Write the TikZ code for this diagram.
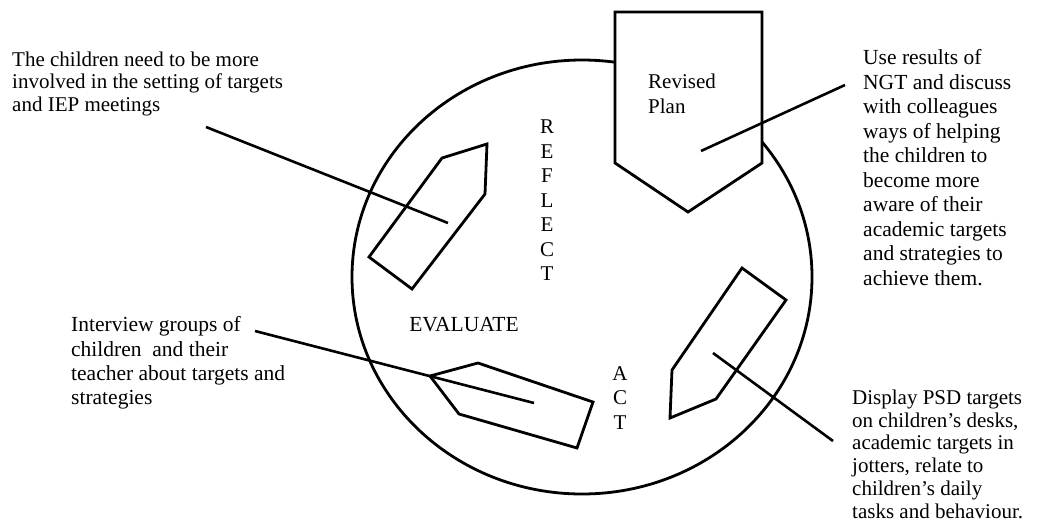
\documentclass[tikz,border=0pt]{standalone}
\usepackage{fontspec}
\setmainfont{Liberation Serif}
\begin{document}
\begin{tikzpicture}[x=1pt,y=-1pt,
  txt/.style={inner sep=0pt, align=left, anchor=north west},
  vert/.style={font=\fontsize{21}{24.5}\selectfont, inner sep=0pt, align=center, anchor=north},
  outline/.style={line width=2.8pt, line join=miter},
  link/.style={line width=2.6pt}]
\useasboundingbox (0,0) rectangle (1040,527);

% the cycle
\draw[line width=2.8pt] (582,277) ellipse [x radius=230pt, y radius=217pt];

% the stage arrows
\draw[outline, fill=white] (615,12) -- (762,12) -- (762,163) -- (688,212) -- (615,163) -- cycle;
\draw[outline] (442,158) -- (487,144) -- (485,194) -- (412,289) -- (369,257) -- cycle;
\draw[outline] (742,268) -- (786,300) -- (716,399) -- (670,418) -- (672,370) -- cycle;
\draw[outline] (430,376) -- (478,363) -- (593,402) -- (577,448) -- (459,414) -- cycle;

% labels inside the cycle
\node[txt, font=\fontsize{21}{25}\selectfont] (plan) at (648,73.5) {Revised\\Plan};
\node[vert] (reflect) at (547,120) {R\\E\\F\\L\\E\\C\\T};
\node[vert] (act) at (620,366) {A\\C\\T};
\node[font=\fontsize{21.5}{23}\selectfont, inner sep=0pt] (evaluate) at (464,325) {EVALUATE};

% notes
\node[txt, font=\fontsize{21}{22.7}\selectfont] (noteTL) at (12,51.5) {The children need to be more\\involved in the setting of targets\\and IEP meetings};
\node[txt, font=\fontsize{21.5}{24.5}\selectfont] (noteTR) at (863,49.5) {Use results of\\NGT and discuss\\with colleagues\\ways of helping\\the children to\\become more\\aware of their\\academic targets\\and strategies to\\achieve them.};
\node[txt, font=\fontsize{21.5}{24.3}\selectfont] (noteBL) at (71,316.5) {Interview groups of\\children\ \ and their\\teacher about targets and\\strategies};
\node[txt, font=\fontsize{21}{22.8}\selectfont] (noteBR) at (852,389.5) {Display PSD targets\\on children’s desks,\\academic targets in\\jotters, relate to\\children’s daily\\tasks and behaviour.};

% connector ends
\coordinate (tlA) at (206,127); \coordinate (tlB) at (448,223);
\coordinate (trA) at (845,85);  \coordinate (trB) at (701,151);
\coordinate (blA) at (255,331); \coordinate (blB) at (534,403);
\coordinate (brA) at (833,441); \coordinate (brB) at (713,353);

\draw[link] (tlA) -- (tlB);
\draw[link] (trA) -- (trB);
\draw[link] (blA) -- (blB);
\draw[link] (brA) -- (brB);
\end{tikzpicture}
\end{document}
